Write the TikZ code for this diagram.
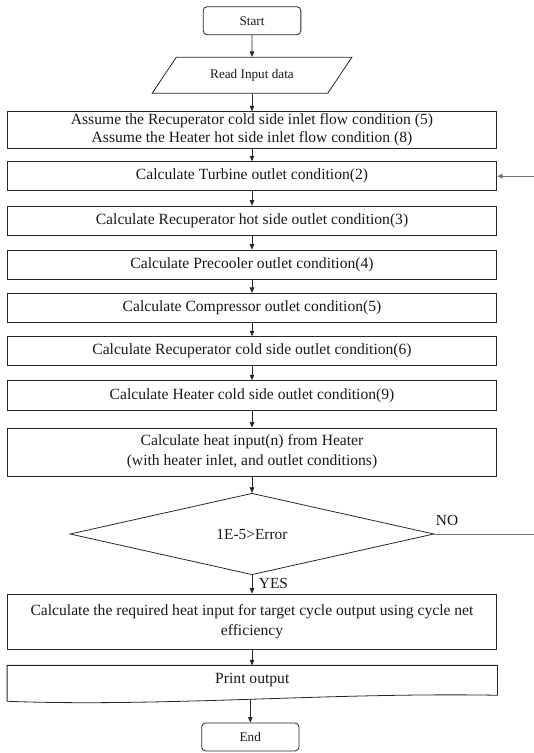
\documentclass[tikz,border=0pt]{standalone}
\usepackage{fontspec}
\setmainfont{Liberation Serif}
\usetikzlibrary{shapes.geometric,arrows.meta,calc}
\begin{document}
\begin{tikzpicture}[x=1pt,y=-1pt,
  box/.style={draw=black!85, line width=0.8pt, rectangle, minimum width=489.4pt, inner sep=0pt, align=center, font=\fontsize{15.6}{20}\selectfont, text=black!90},
  term/.style={draw=black!85, line width=0.8pt, rectangle, rounded corners=4pt, inner sep=0pt, font=\fontsize{13.2}{16}\selectfont, text=black!90},
  flow/.style={-{Triangle[length=5.5pt,width=4.5pt]}, line width=0.7pt, black!85},
  fback/.style={line width=0.8pt, black!55},
  lbl/.style={font=\fontsize{15.4}{18}\selectfont, text=black!90, inner sep=0pt}]
\useasboundingbox (0,0) rectangle (534,753);

\node[term, minimum width=97.7pt, minimum height=28pt] (start) at (252,20.7) {Start};
\node[draw=black!85, line width=0.8pt, trapezium, trapezium left angle=42, trapezium right angle=138, trapezium stretches=true, minimum width=200pt, minimum height=36pt, inner sep=0pt, font=\fontsize{13.2}{16}\selectfont, text=black!90] (read) at (252,75.3) {Read Input data};

\node[box, minimum height=36.6pt, font=\fontsize{15.6}{18.3}\selectfont] (b1) at (252,130) {Assume the Recuperator cold side inlet flow condition (5)\\Assume the Heater hot side inlet flow condition (8)};
\node[box, minimum height=29pt] (b2) at (252,176.2) {Calculate Turbine outlet condition(2)};
\node[box, minimum height=29.5pt] (b3) at (252,220.8) {Calculate Recuperator hot side outlet condition(3)};
\node[box, minimum height=29.3pt] (b4) at (252,264.7) {Calculate Precooler outlet condition(4)};
\node[box, minimum height=29.3pt] (b5) at (252,308) {Calculate Compressor outlet condition(5)};
\node[box, minimum height=29pt] (b6) at (252,351.2) {Calculate Recuperator cold side outlet condition(6)};
\node[box, minimum height=29.3pt] (b7) at (252,395.3) {Calculate Heater cold side outlet condition(9)};
\node[box, minimum height=48pt] (b8) at (252,452) {Calculate heat input(n) from Heater\\(with heater inlet, and outlet conditions)};

\node[draw=black!85, line width=0.8pt, diamond, minimum width=364pt, minimum height=76pt, inner sep=0pt, font=\fontsize{15.4}{18}\selectfont, text=black!90] (dia) at (252,534) {1E-5>Error};

\node[box, minimum height=55.3pt] (b9) at (252,621.7) {Calculate the required heat input for target cycle output using cycle net\\efficiency};

\node[rectangle, minimum width=490pt, minimum height=29.5pt, inner sep=0pt, font=\fontsize{15.6}{18}\selectfont, text=black!90] (pr) at (252.3,680.3) {Print output};
\draw[black!85, line width=0.8pt] ($(pr.south west)+(0,6)$) -- (pr.north west) -- (pr.north east) -- (pr.south east)
  .. controls ($(pr.south east)+(-167,-3)$) and ($(pr.south west)+(153,12)$) .. ($(pr.south west)+(0,6)$);
\coordinate (pw) at ($(pr.south)+(-2,4)$);

\node[term, minimum width=97.3pt, minimum height=28pt] (end) at (250.3,737) {End};

\draw[flow] (start) -- (read);
\draw[flow] (read) -- (b1);
\draw[flow] (b1) -- (b2);
\draw[flow] (b2) -- (b3);
\draw[flow] (b3) -- (b4);
\draw[flow] (b4) -- (b5);
\draw[flow] (b5) -- (b6);
\draw[flow] (b6) -- (b7);
\draw[flow] (b7) -- (b8);
\draw[flow] (b8) -- (dia);
\draw[flow] (dia) -- (b9);
\draw[flow] (b9.south) -- (b9.south |- pr.north);
\draw[flow] (pw) -- (pw |- end.north);

\coordinate (noend) at (534,534);
\coordinate (fbin) at (534,176.2);
\draw[fback] (dia.east) -- (noend);
\draw[fback, -{Triangle[length=5.5pt,width=4.5pt]}] (fbin) -- (b2.east);

\node[lbl] (no) at (447,520) {NO};
\node[lbl] (yes) at (273.5,583.5) {YES};
\end{tikzpicture}
\end{document}
